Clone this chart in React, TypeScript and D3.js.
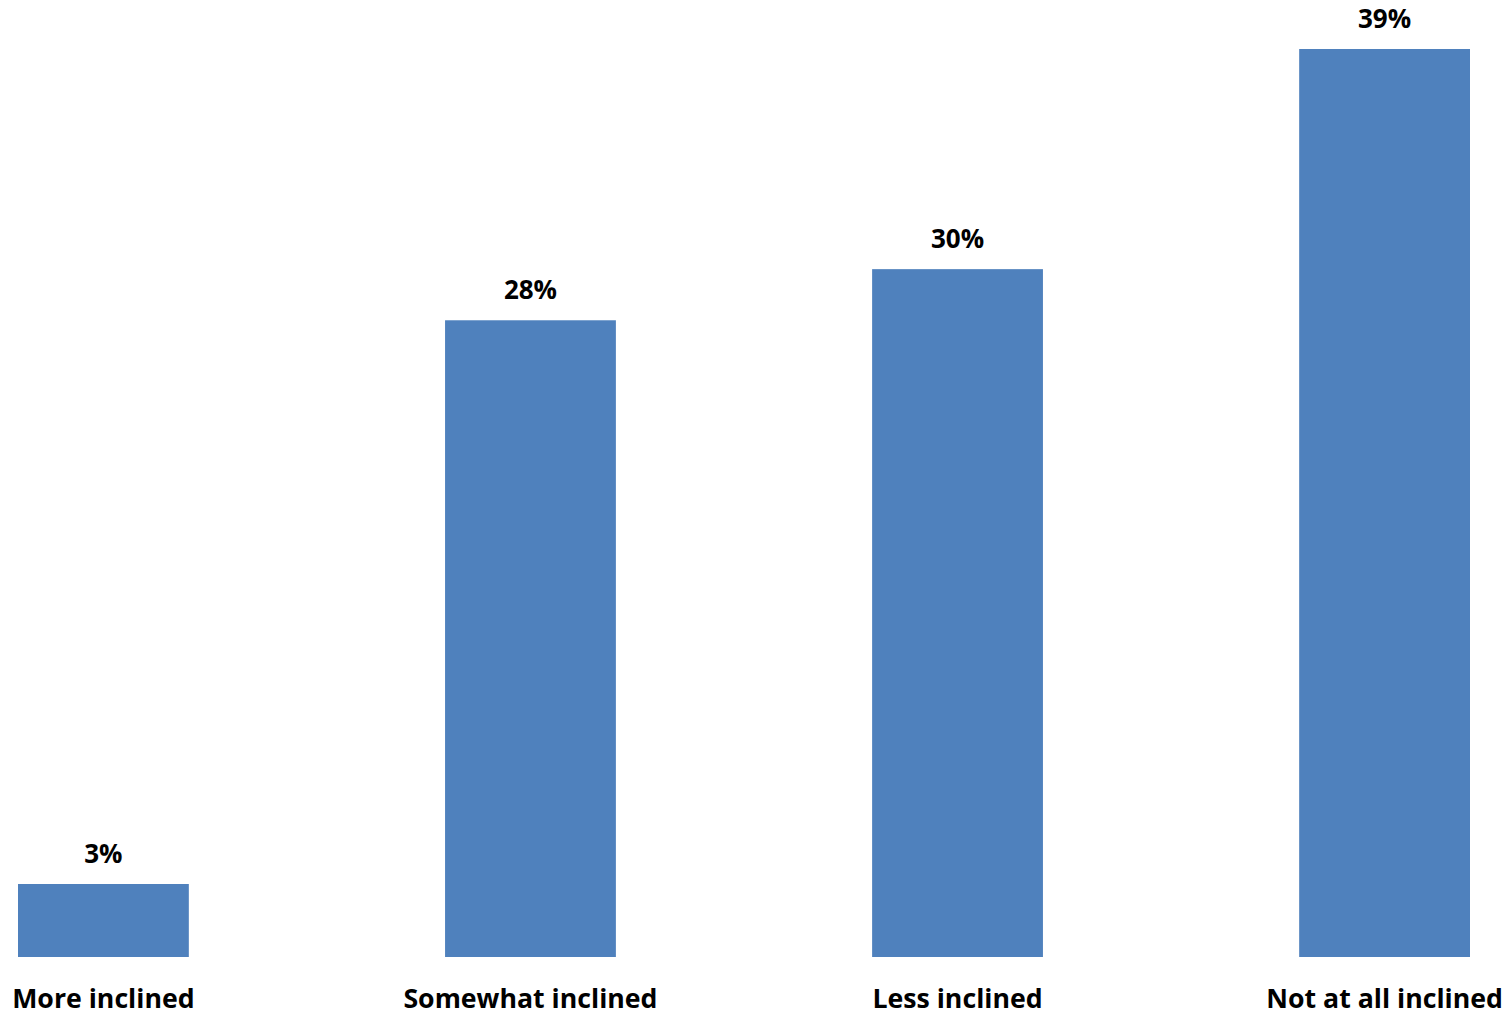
import React from "react";
import * as d3 from "d3";

const categories = ["More inclined", "Somewhat inclined", "Less inclined", "Not at all inclined"];
const values = [3.17, 27.65, 29.87, 39.43];
const valueLabels = ["3%", "28%", "30%", "39%"];

const W = 1510;
const H = 1017;

export default function App() {
  const x = d3.scaleBand<string>().domain(categories).range([18, 1470]).paddingInner(0.6).paddingOuter(0);
  const y = d3.scaleLinear().domain([0, 39.43]).range([957, 49]);
  const font = "'Open Sans', sans-serif";
  return (
    <svg width={W} height={H} style={{ position: "absolute", left: 0, top: 0, background: "#fff" }}>
      {categories.map((c, i) => {
        const bx = x(c)!;
        const bw = x.bandwidth();
        const cx = bx + bw / 2;
        return (
          <g key={c}>
            <rect x={bx} y={y(values[i])} width={bw} height={y(0) - y(values[i])} fill="#4F81BD" />
            <text x={cx} y={y(values[i]) - 21} textAnchor="middle" fontFamily={font} fontWeight="bold" fontSize={26} fill="#000">
              {valueLabels[i]}
            </text>
            <text x={cx} y={1008} textAnchor="middle" fontFamily={font} fontWeight="bold" fontSize={26.7} fill="#000">
              {c}
            </text>
          </g>
        );
      })}
    </svg>
  );
}
